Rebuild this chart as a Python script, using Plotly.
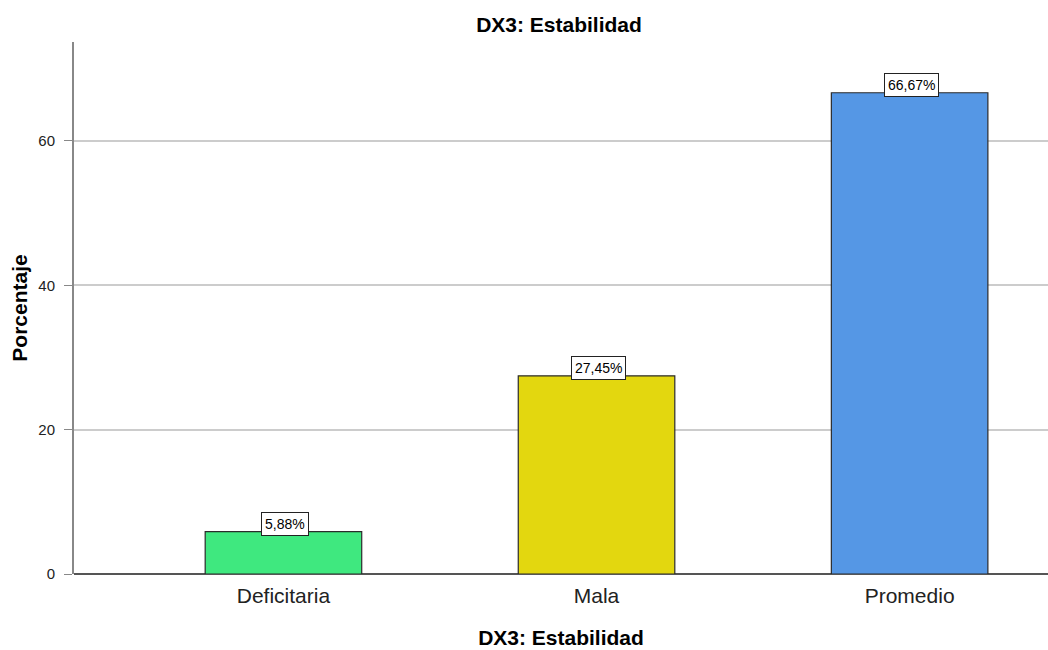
import plotly.graph_objects as go

categories = ["Deficitaria", "Mala", "Promedio"]
values = [5.88, 27.45, 66.67]
labels = ["5,88%", "27,45%", "66,67%"]
colors = ["#3FE87F", "#E3D70F", "#5597E5"]

FONT = "Liberation Sans, Arial"

fig = go.Figure()
fig.add_trace(go.Bar(
    x=list(range(len(categories))), y=values, width=0.5,
    marker=dict(color=colors, line=dict(color="#2b2b2b", width=1.2)),
    hoverinfo="skip",
))
for i, (v, t) in enumerate(zip(values, labels)):
    fig.add_annotation(x=i, y=v, text=t, showarrow=False, yanchor="bottom",
                       yshift=-4, xshift=2, bgcolor="white", bordercolor="#222", borderwidth=1,
                       borderpad=3, font=dict(family=FONT, size=14, color="black"))

fig.update_layout(
    width=1048, height=650,
    margin=dict(l=74, r=0, t=42, b=76, autoexpand=False),
    paper_bgcolor="white", plot_bgcolor="white",
    showlegend=False,
    title=dict(text="<b>DX3: Estabilidad</b>", x=559/1048, xanchor="center", y=1-25/650, yanchor="middle",
               font=dict(family=FONT, size=21, color="black")),
    font=dict(family=FONT, color="black"),
    xaxis=dict(range=[-0.669, 2.442], tickvals=list(range(len(categories))), ticktext=categories,
               showgrid=False, zeroline=False, showline=False, ticks="", automargin=False,
               ticklabelstandoff=7,
               tickfont=dict(size=21, color="#222"),
               title=dict(text="<b>DX3: Estabilidad</b>", font=dict(size=21, color="black"), standoff=24)),
    yaxis=dict(range=[0, 73.7], tickvals=[0, 20, 40, 60], showgrid=True, gridcolor="#cccccc", gridwidth=1.5,
               zeroline=True, zerolinecolor="#555555", zerolinewidth=1.5, automargin=False,
               showline=True, linecolor="#888888", linewidth=2, ticks="outside", ticklen=8,
               tickcolor="#888888", tickfont=dict(size=15, color="#222"), ticklabelstandoff=6,
               title=dict(text="<b>Porcentaje</b>", font=dict(size=21, color="black"), standoff=5)),
)

fig.write_html("out.html", config={"displayModeBar": False},
               post_script="document.body.style.margin='0';document.body.style.overflow='hidden';")
